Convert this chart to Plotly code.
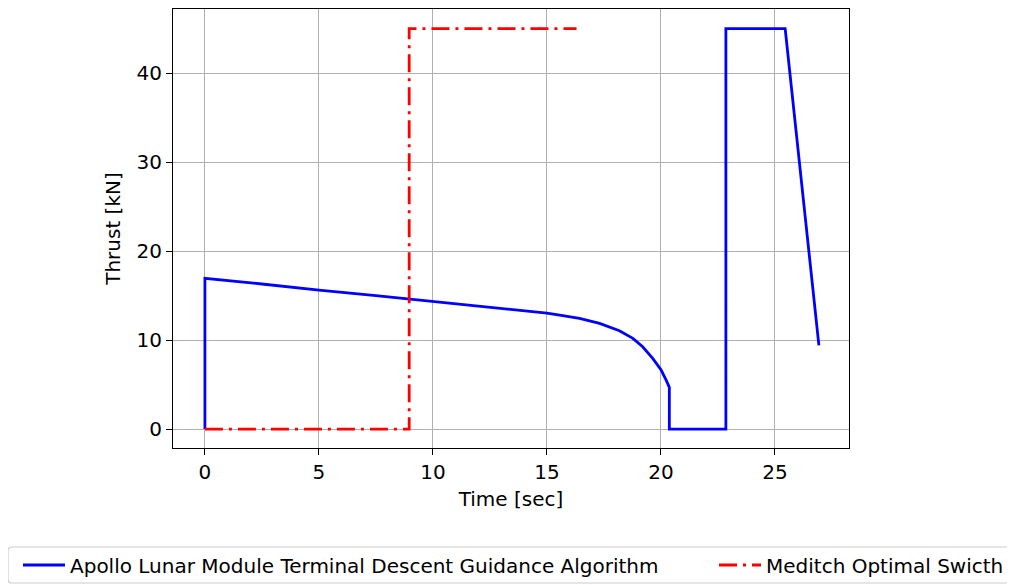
import plotly.graph_objects as go

# Blue: Apollo LM terminal descent guidance thrust profile
apollo_t = [0.0, 0.0, 2.5, 5.0, 7.5, 10.0, 12.5, 14.0, 15.0, 15.56, 16.43, 17.31, 18.18,
            18.77, 19.2, 19.64, 20.01, 20.23, 20.37,
            20.37, 22.85, 22.85, 25.45, 26.93]
apollo_f = [0.0, 16.93, 16.3, 15.6, 15.0, 14.35, 13.7, 13.3, 13.03, 12.81, 12.44, 11.87, 11.05,
            10.19, 9.25, 7.94, 6.63, 5.5, 4.68,
            0.0, 0.0, 45.0, 45.0, 9.4]

# Red: Meditch optimal switch
meditch_t = [0.0, 8.96, 8.96, 16.3]
meditch_f = [0.0, 0.0, 45.0, 45.0]

x_ticks = [0, 5, 10, 15, 20, 25]
y_ticks = [0, 10, 20, 30, 40]

FONT = "DejaVu Sans"
FS = 20

fig = go.Figure()
fig.add_trace(go.Scatter(
    x=apollo_t, y=apollo_f, mode="lines",
    name="Apollo Lunar Module Terminal Descent Guidance Algorithm",
    line=dict(color="#0000ff", width=2.8),
    legend="legend",
))
fig.add_trace(go.Scatter(
    x=meditch_t, y=meditch_f, mode="lines",
    name="Meditch Optimal Swicth",
    line=dict(color="#ff0000", width=2.8, dash="18px,6px,3px,6px"),
    legend="legend2",
))

axis_common = dict(
    showline=True, linecolor="black", linewidth=1.2, mirror=True,
    showgrid=True, gridcolor="#b0b0b0", gridwidth=1.1,
    ticks="outside", ticklen=6, tickwidth=1.2, tickcolor="black",
    zeroline=False,
    tickfont=dict(family=FONT, size=FS, color="black"),
)

# page has an 8px body margin; figure coords = page coords - 8
OFF = 8
W, H = 1015, 585
PW, PH = 676, 439
ML, MT = 173 - OFF, 9 - OFF
MR, MB = W - ML - PW, H - MT - PH


def px_x(p):
    return (p - OFF - ML) / PW


def px_y(p):
    return (H - MB - (p - OFF)) / PH


# rounded legend frame (drawn in paper coordinates), page pixel positions
bx0, bx1, by0, by1, r = 8, 1030, 547, 583, 4
rx, ry = r / PW, r / PH
X0, X1, Y0, Y1 = px_x(bx0), px_x(bx1), px_y(by1), px_y(by0)
frame_path = (
    f"M{X0+rx},{Y0} L{X1-rx},{Y0} Q{X1},{Y0} {X1},{Y0+ry} L{X1},{Y1-ry} "
    f"Q{X1},{Y1} {X1-rx},{Y1} L{X0+rx},{Y1} Q{X0},{Y1} {X0},{Y1-ry} "
    f"L{X0},{Y0+ry} Q{X0},{Y0} {X0+rx},{Y0} Z"
)

leg_common = dict(
    orientation="h", yanchor="middle", y=px_y(565), xanchor="left",
    bgcolor="rgba(0,0,0,0)", borderwidth=0,
    font=dict(family=FONT, size=FS, color="black"),
    itemwidth=42,
)

fig.update_layout(
    width=W, height=H,
    margin=dict(l=ML, r=MR, t=MT, b=MB, autoexpand=False),
    paper_bgcolor="white", plot_bgcolor="white",
    font=dict(family=FONT, size=FS, color="black"),
    xaxis=dict(range=[-1.4, 28.25], tickvals=x_ticks,
               title=dict(text="Time [sec]", font=dict(family=FONT, size=FS), standoff=8),
               **axis_common),
    yaxis=dict(range=[-2.13, 47.2], tickvals=y_ticks,
               title=dict(text="Thrust [kN]", font=dict(family=FONT, size=FS), standoff=10),
               **axis_common),
    showlegend=True,
    legend=dict(x=px_x(18), **leg_common),
    legend2=dict(x=px_x(714), **leg_common),
    shapes=[dict(type="path", xref="paper", yref="paper", path=frame_path,
                 line=dict(color="#cccccc", width=1.2), fillcolor="rgba(0,0,0,0)",
                 layer="below")],
)

fig.write_html("out.html")
